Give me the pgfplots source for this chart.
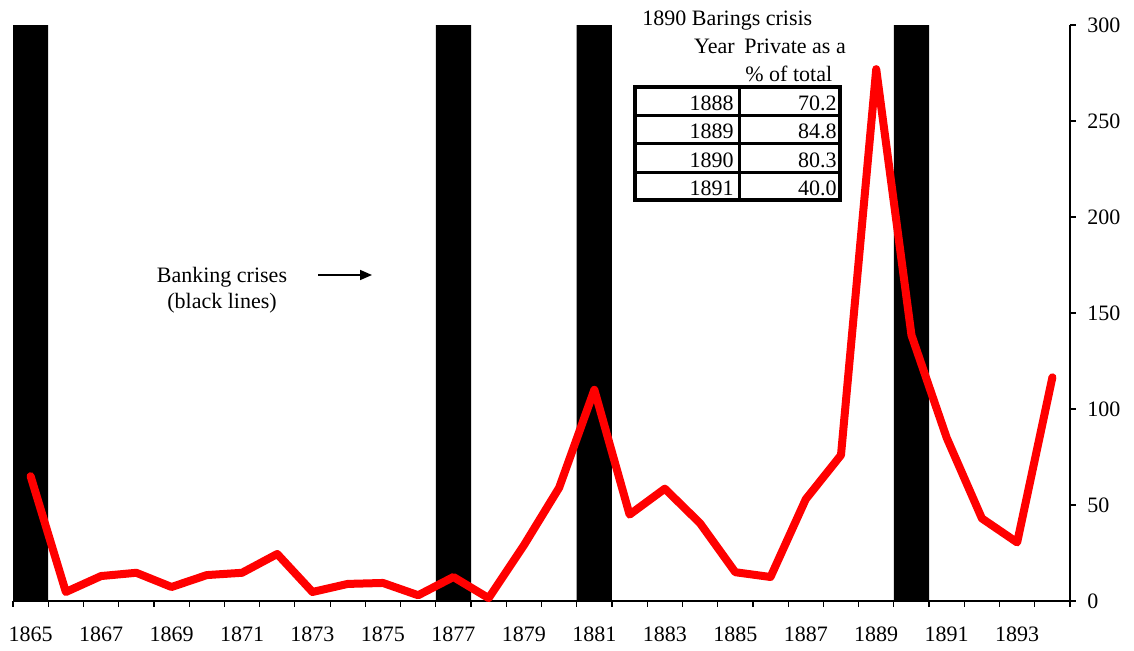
\documentclass[border=0pt]{standalone}
\usepackage{fontspec}
\setmainfont{Liberation Serif}
\usepackage{pgfplots}
\pgfplotsset{compat=1.18}
\usetikzlibrary{arrows.meta}
\begin{document}
\fontsize{11}{13}\selectfont
\begin{tikzpicture}
\path[use as bounding box] (-6.5pt,-24.5pt) rectangle (560.5pt,300.5pt);
\begin{axis}[scale only axis, width=528.5pt, height=288pt,
  at={(0,0)}, anchor=south west,
  xmin=1864.5, xmax=1894.5, ymin=0, ymax=300,
  axis x line*=bottom, axis y line*=right,
  xtick={1864.5,1865.5,...,1894.5}, xticklabels={},
  extra x ticks={1865,1867,...,1893},
  extra x tick style={major tick length=0pt},
  ytick={0,50,...,300},
  tick align=outside,
  major tick length=2.8pt,
  tick style={black, line width=0.6pt},
  axis line style={black, line width=0.6pt},
  xticklabel style={yshift=-9pt},
  yticklabel style={xshift=2pt},
  /pgf/number format/assume math mode=true,
  /pgf/number format/1000 sep={},
  ticklabel style={font=\fontsize{11}{13}\selectfont},
  clip=false,
]
\addplot[ybar interval, fill=black, draw=none] coordinates {
  (1864.5,300) (1865.5,0) (1876.5,300) (1877.5,0) (1880.5,300) (1881.5,0)
  (1889.5,300) (1890.5,0) (1894.5,0)};
\addplot[red, line width=4pt, line join=round, line cap=round] coordinates {
  (1865,65) (1866,4.7) (1867,13) (1868,14.7) (1869,7.3) (1870,13.5)
  (1871,14.7) (1872,24.5) (1873,4.7) (1874,8.9) (1875,9.4) (1876,3)
  (1877,12.5) (1878,1.5) (1879,29) (1880,59) (1881,110) (1882,45)
  (1883,58.5) (1884,40.5) (1885,15) (1886,12.5) (1887,53) (1888,76)
  (1889,277) (1890,138.5) (1891,85) (1892,43) (1893,30.5) (1894,116.5)};
\end{axis}
\begin{scope}[shift={(-6.5pt,300.5pt)}, x=0.5pt, y=-0.5pt]
  \node[anchor=base west, inner sep=0pt] at (642,26) {1890 Barings crisis};
  \node[anchor=base east, inner sep=0pt] at (735,53) {Year};
  \node[anchor=base west, inner sep=0pt] at (744,53) {Private as a};
  \node[anchor=base west, inner sep=0pt] at (745,81) {\% of total};
  \draw[line width=1.6pt] (635,87) rectangle (840,200);
  \draw[line width=1.5pt] (739,87) -- (739,200);
  \draw[line width=1.5pt] (635,115) -- (840,115) (635,143) -- (840,143) (635,172) -- (840,172);
  \node[anchor=base east, inner sep=0pt] at (734,110) {1888};
  \node[anchor=base east, inner sep=0pt] at (734,138) {1889};
  \node[anchor=base east, inner sep=0pt] at (734,167) {1890};
  \node[anchor=base east, inner sep=0pt] at (734,195) {1891};
  \node[anchor=base east, inner sep=0pt] at (837,110) {70.2};
  \node[anchor=base east, inner sep=0pt] at (837,138) {84.8};
  \node[anchor=base east, inner sep=0pt] at (837,167) {80.3};
  \node[anchor=base east, inner sep=0pt] at (837,195) {40.0};
  \node[anchor=base, inner sep=0pt] at (222,282) {Banking crises};
  \node[anchor=base, inner sep=0pt] at (222,308) {(black lines)};
  \draw[line width=0.8pt, -{Triangle[length=6pt,width=5pt]}] (318,275) -- (372,275);
\end{scope}
\end{tikzpicture}
\end{document}
